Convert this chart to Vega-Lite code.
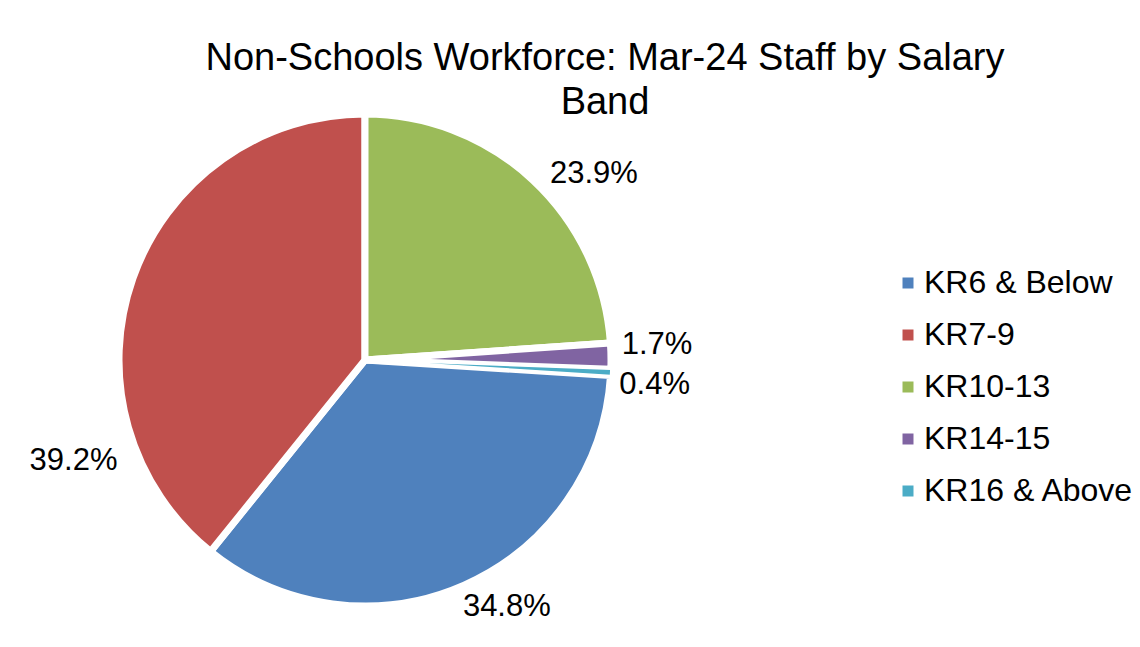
{
  "$schema": "https://vega.github.io/schema/vega-lite/v6.json",
  "width": 730,
  "height": 472,
  "autosize": {"type": "pad"},
  "padding": {"left": 0, "top": 40, "right": 0, "bottom": 0},
  "background": "white",
  "config": {"view": {"stroke": null}},
  "title": {
    "text": ["Non-Schools Workforce: Mar-24 Staff by Salary", "Band"],
    "font": "Liberation Sans",
    "fontSize": 38,
    "fontWeight": "normal",
    "color": "#000000",
    "lineHeight": 44,
    "anchor": "middle",
    "dx": 240,
    "offset": -22
  },
  "data": {
    "values": [
      {"band": "KR6 & Below", "share": 0.348},
      {"band": "KR7-9", "share": 0.392},
      {"band": "KR10-13", "share": 0.239},
      {"band": "KR14-15", "share": 0.017},
      {"band": "KR16 & Above", "share": 0.004}
    ]
  },
  "encoding": {
    "theta": {
      "field": "share",
      "type": "quantitative",
      "stack": true,
      "scale": {"domain": [0, 1], "range": [0, 6.2832]}
    },
    "order": {"field": "band", "type": "ordinal", "sort": "ascending"}
  },
  "layer": [
    {
      "mark": {"type": "arc", "outerRadius": 246, "stroke": "white"},
      "encoding": {
        "color": {
          "field": "band",
          "type": "nominal",
          "scale": {
            "domain": ["KR6 & Below", "KR7-9", "KR10-13", "KR14-15", "KR16 & Above"],
            "range": ["#4F81BD", "#C0504D", "#9BBB59", "#8064A2", "#4BACC6"]
          },
          "legend": {
            "orient": "none",
            "legendX": 892,
            "legendY": 143,
            "title": null,
            "padding": 0,
            "symbolType": "square",
            "symbolSize": 121,
            "symbolStrokeWidth": 0,
            "labelFont": "Liberation Sans",
            "labelFontSize": 32,
            "labelColor": "#000000",
            "labelOffset": 0,
            "rowPadding": 20,
            "labelLimit": 400
          }
        },
        "strokeWidth": {
          "condition": {"test": "datum.band === 'KR16 & Above'", "value": 1.5},
          "value": 7
        }
      }
    },
    {
      "mark": {
        "type": "text",
        "radius": 290,
        "font": "Liberation Sans",
        "fontSize": 31,
        "fill": "#000000",
        "align": "center",
        "baseline": "middle",
        "dx": {"expr": "datum.band === 'KR10-13' ? 31 : datum.band === 'KR6 & Below' ? 25 : datum.band === 'KR7-9' ? -18 : datum.band === 'KR14-15' ? 2 : 0"},
        "dy": {"expr": "datum.band === 'KR10-13' ? 26 : datum.band === 'KR6 & Below' ? -18 : datum.band === 'KR7-9' ? 198 : datum.band === 'KR14-15' ? -10 : 10"}
      },
      "encoding": {
        "detail": {"field": "band", "type": "nominal"},
        "text": {"field": "share", "type": "quantitative", "format": ".1%"}
      }
    }
  ]
}
